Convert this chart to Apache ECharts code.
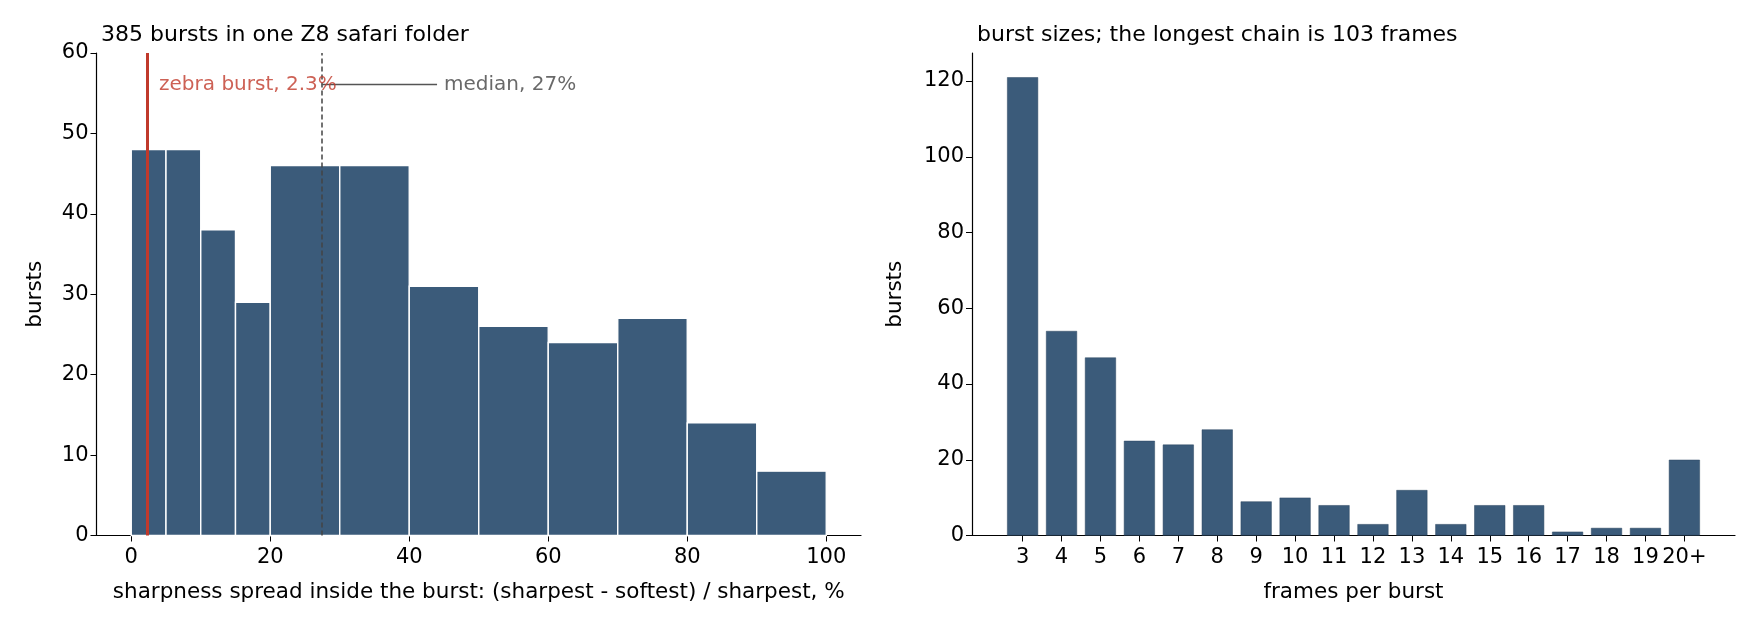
<!DOCTYPE html><html><head><meta charset="utf-8"><script src="https://cdn.jsdelivr.net/npm/echarts@6/dist/echarts.min.js"></script></head><body style="margin:0;background:#fff"><div id="c" style="width:1760px;height:624px"></div><script>
const binStarts=[0,5,10,15,20,30,40,50,60,70,80,90];
const binEnds=[5,10,15,20,30,40,50,60,70,80,90,100];
const binCounts=[48,48,38,29,46,46,31,26,24,27,14,8];
const sizeCats=[3,4,5,6,7,8,9,10,11,12,13,14,15,16,17,18,19,20];
const sizeLabels=['3','4','5','6','7','8','9','10','11','12','13','14','15','16','17','18','19','20+'];
const sizeCounts=[121,54,47,25,24,28,9,10,8,3,12,3,8,8,1,2,2,20];
const zebra=2.3, median=27.4;
const C='#3b5b7a', F='DejaVu Sans';
const lab={color:'#000',fontSize:21,fontFamily:F,margin:8};
const xlab=Object.assign({},lab,{margin:12});
const ax={axisLine:{show:true,onZero:false,lineStyle:{color:'#000',width:1.2}},axisTick:{show:true,length:6,lineStyle:{color:'#000'}},splitLine:{show:false},axisLabel:lab,nameTextStyle:{color:'#000',fontSize:21.5,fontFamily:F}};
const ch=echarts.init(document.getElementById('c'));
ch.setOption({animation:false,
title:[{text:'385 bursts in one Z8 safari folder',left:96,top:19,textStyle:{fontSize:22,fontWeight:'normal',fontFamily:F,color:'#000'}},
{text:'burst sizes; the longest chain is 103 frames',left:972,top:19,textStyle:{fontSize:22,fontWeight:'normal',fontFamily:F,color:'#000'}}],
grid:[{left:96.5,top:53,width:764.5,height:482.5},{left:972,top:53,width:763,height:482.5}],
xAxis:[Object.assign({},ax,{type:'value',gridIndex:0,min:-5,max:105,interval:20,name:'sharpness spread inside the burst: (sharpest - softest) / sharpest, %',nameLocation:'middle',nameGap:46,axisLabel:Object.assign({},xlab,{customValues:[0,20,40,60,80,100]}),axisTick:{show:true,length:6,customValues:[0,20,40,60,80,100],lineStyle:{color:'#000'}}}),
Object.assign({},ax,{type:'value',gridIndex:1,min:1.7,max:21.3,name:'frames per burst',nameLocation:'middle',nameGap:46,axisLabel:Object.assign({},xlab,{customValues:sizeCats,formatter:v=>sizeLabels[sizeCats.indexOf(Math.round(v))]}),axisTick:{show:true,length:6,customValues:sizeCats,lineStyle:{color:'#000'}}})],
yAxis:[Object.assign({},ax,{type:'value',gridIndex:0,min:0,max:60,interval:10,name:'bursts',nameLocation:'middle',nameGap:50}),
Object.assign({},ax,{type:'value',gridIndex:1,min:0,max:127.4,interval:20,name:'bursts',nameLocation:'middle',nameGap:66,axisLabel:Object.assign({},lab,{showMaxLabel:false})})],
series:[{type:'custom',xAxisIndex:0,yAxisIndex:0,data:binCounts.map((v,i)=>[binStarts[i],binEnds[i],v]),
renderItem:(p,api)=>{const a=api.coord([api.value(0),api.value(2)]),b=api.coord([api.value(1),0]);return{type:'rect',shape:{x:a[0],y:a[1],width:b[0]-a[0],height:b[1]-a[1]},style:{fill:C,stroke:'#fff',lineWidth:1.4}};},
markLine:{silent:true,symbol:'none',label:{show:false},data:[
[{coord:[zebra,0],lineStyle:{color:'#c0392b',width:3,type:'solid'}},{coord:[zebra,60]}],
[{coord:[median,0],lineStyle:{color:'#444',width:1.5,type:[5,3]}},{coord:[median,60]}],
[{coord:[44,56.1],lineStyle:{color:'#555',width:1.4,type:'solid'}},{coord:[median,56.1]}]]},
z:2},
{type:'scatter',xAxisIndex:0,yAxisIndex:0,symbolSize:0,silent:true,z:5,data:[
{value:[4,56.1],label:{show:true,position:'right',distance:0,formatter:'zebra burst, 2.3%',color:'#c0392b',fontSize:20,fontFamily:F}},
{value:[45,56.1],label:{show:true,position:'right',distance:0,formatter:'median, 27%',color:'#444',fontSize:20,fontFamily:F}}]},
{type:'bar',xAxisIndex:1,yAxisIndex:1,data:sizeCats.map((c,i)=>[c,sizeCounts[i]]),barWidth:31,itemStyle:{color:C,borderColor:'#2d4760',borderWidth:0.5}}]});
</script></body></html>
